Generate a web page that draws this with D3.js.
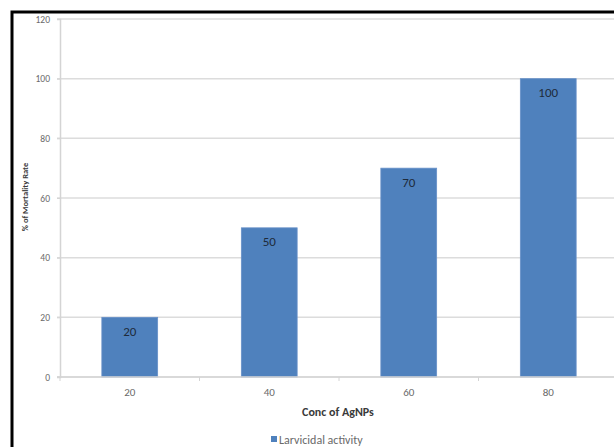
<!DOCTYPE html>
<html><head><meta charset="utf-8">
<script src="https://cdn.jsdelivr.net/npm/d3@7"></script>
<style>body{margin:0;background:#fff;}svg{display:block;}</style>
</head><body>
<svg id="c" width="614" height="447"></svg>
<script>
const categories = ["20", "40", "60", "80"];
const values = [20, 50, 70, 100];
const yTicks = [0, 20, 40, 60, 80, 100, 120];
const seriesName = "Larvicidal activity";
const xTitle = "Conc of AgNPs";
const yTitle = "% of Mortality Rate";

(function () {
const svg = d3.select("#c");
const W = 614, H = 447;
const mLeft = 60, mRight = 618, mTop = 19, mBottom = 377;
const font = "Calibri, Carlito, 'Liberation Sans', Arial, sans-serif";

svg.append("rect").attr("width", W).attr("height", H).attr("fill", "#fff");
// frame
svg.append("path").attr("d", `M12,${H+5} V12 H${W+5}`).attr("fill", "none").attr("stroke", "#000").attr("stroke-width", 3);

const x = d3.scaleBand().domain(categories).range([mLeft, mRight]).paddingInner(0.6).paddingOuter(0.3);
const y = d3.scaleLinear().domain([0, 120]).range([mBottom, mTop]);

// gridlines
svg.append("g").selectAll("line").data(yTicks).join("line")
  .attr("x1", mLeft - 3).attr("x2", W).attr("y1", d => y(d)).attr("y2", d => y(d))
  .attr("stroke", "#dcdcdc").attr("stroke-width", 1.5);

// y axis
const yAxis = svg.append("g").attr("transform", `translate(${mLeft},0)`)
  .call(d3.axisLeft(y).tickValues(yTicks).tickSize(3).tickPadding(7));
yAxis.select(".domain").attr("stroke", "#d4d4d4").attr("stroke-width", 1.5);
yAxis.selectAll(".tick line").attr("stroke", "#d4d4d4");
yAxis.selectAll("text").attr("font-family", font).attr("font-size", 9.5).attr("fill", "#6a6a6a");

// bars
svg.append("g").selectAll("rect").data(values).join("rect")
  .attr("x", (d, i) => x(categories[i])).attr("width", x.bandwidth())
  .attr("y", d => y(d)).attr("height", d => y(0) - y(d))
  .attr("fill", "#4F81BD").attr("stroke", "#6790c8").attr("stroke-width", 0.8);

// labels
svg.append("g").selectAll("text").data(values).join("text")
  .attr("x", (d, i) => x(categories[i]) + x.bandwidth() / 2)
  .attr("y", d => y(d) + 18.5)
  .attr("text-anchor", "middle").attr("font-family", font).attr("font-size", 13)
  .attr("fill", "#1e2b3b").text(d => d);

// x axis
const xb = d3.scaleLinear().domain([0, 4]).range([mLeft, mRight]);
const xAxisG = svg.append("g").attr("transform", `translate(0,${mBottom})`);
xAxisG.append("line").attr("x1", mLeft - 3).attr("x2", W).attr("stroke", "#d4d4d4").attr("stroke-width", 1.5);
xAxisG.selectAll(".tk").data(d3.range(0, 5)).join("line").attr("class", "tk")
  .attr("x1", d => xb(d)).attr("x2", d => xb(d)).attr("y1", 0).attr("y2", 4)
  .attr("stroke", "#d4d4d4");
xAxisG.selectAll("text").data(categories).join("text")
  .attr("x", d => x(d) + x.bandwidth() / 2).attr("y", 19)
  .attr("text-anchor", "middle").attr("font-family", font).attr("font-size", 11)
  .attr("fill", "#6a6a6a").text(d => d);

// axis titles
svg.append("text").attr("x", 338).attr("y", 415.5).attr("text-anchor", "middle")
  .attr("font-family", font).attr("font-size", 12).attr("font-weight", "bold").attr("fill", "#3a3a3a").text(xTitle);
svg.append("text").attr("transform", `translate(28,${197}) rotate(-90)`)
  .attr("text-anchor", "middle").attr("font-family", font).attr("font-size", 8.5).attr("font-weight", "bold")
  .attr("fill", "#3a3a3a").text(yTitle);

// legend
svg.append("rect").attr("x", 271).attr("y", 436).attr("width", 6).attr("height", 6).attr("fill", "#4F81BD");
svg.append("text").attr("x", 279).attr("y", 443.5).attr("font-family", font).attr("font-size", 12)
  .attr("fill", "#6a6a6a").text(seriesName);
})();
</script>
</body></html>
